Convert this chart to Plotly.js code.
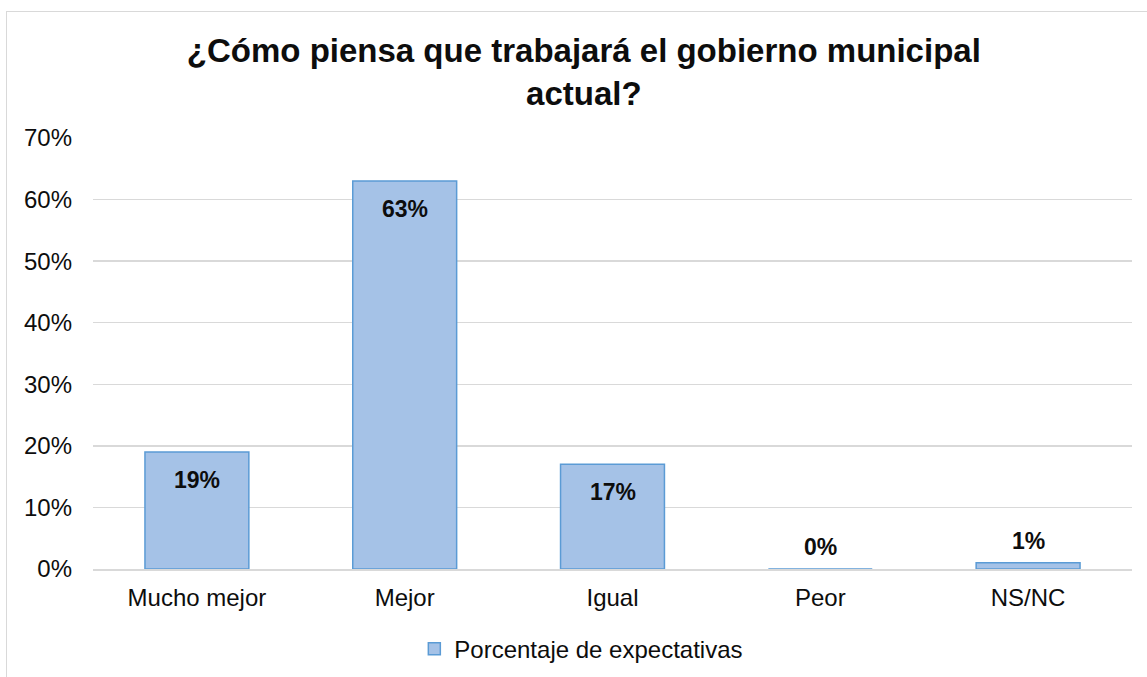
<!DOCTYPE html>
<html>
<head>
<meta charset="utf-8">
<script src="https://cdn.plot.ly/plotly-3.0.1.min.js"></script>
<style>
  html, body { margin: 0; padding: 0; background: #fff; overflow: hidden; }
  #frame { position: absolute; left: 6px; top: 11px; width: 1160px; height: 700px;
           border: 1.5px solid #d9d9d9; box-sizing: border-box; }
  #chart { position: absolute; left: 0; top: 0; width: 1147px; height: 677px; }
</style>
</head>
<body>
<div id="frame"></div>
<div id="chart"></div>
<script>
// Expectativas sobre el gobierno municipal actual
const categories = ['Mucho mejor', 'Mejor', 'Igual', 'Peor', 'NS/NC'];
const shares = [0.19, 0.63, 0.17, 0.0, 0.01];
const labelInside = [true, true, true, false, false];
const yTicks = [0, 0.1, 0.2, 0.3, 0.4, 0.5, 0.6, 0.7];

const FONT = 'Arial, "Liberation Sans", sans-serif';
const INK = '#0d0d0d';
const GRID = '#d9d9d9';

const trace = {
  type: 'bar',
  x: categories,
  y: shares,
  name: 'Porcentaje de expectativas',
  marker: { color: '#a5c2e7', line: { color: '#5b9bd5', width: 1.5 } },
  cliponaxis: false,
  hoverinfo: 'x+y',
};

// data labels: inside near the top for tall bars, just above for tiny ones
const labels = categories.map((c, i) => ({
  x: c,
  y: shares[i],
  xref: 'x',
  yref: 'y',
  text: '<b>' + Math.round(shares[i] * 100) + '%</b>',
  showarrow: false,
  yanchor: 'middle',
  yshift: labelInside[i] ? -28 : 22,
  font: { family: FONT, size: 23, color: INK },
}));

const layout = {
  width: 1147,
  height: 677,
  margin: { l: 93, r: 15, t: 138, b: 108 },
  paper_bgcolor: 'rgba(0,0,0,0)',
  plot_bgcolor: 'rgba(0,0,0,0)',
  font: { family: FONT, color: INK, size: 24 },
  title: {
    text: '<b>¿Cómo piensa que trabajará el gobierno municipal<br>actual?</b>',
    font: { family: FONT, size: 33, color: INK },
    x: 0.509,
    xanchor: 'center',
    y: 0.908,
    yanchor: 'middle',
  },
  bargap: 0.5,
  showlegend: true,
  legend: {
    orientation: 'h',
    x: 0.47,
    xanchor: 'center',
    yref: 'container',
    y: 0.041,
    yanchor: 'middle',
    font: { family: FONT, size: 24, color: INK },
  },
  annotations: labels,
  xaxis: {
    type: 'category',
    showgrid: false,
    showline: true,
    linecolor: GRID,
    linewidth: 1.5,
    ticks: '',
    ticklabelstandoff: 7,
    tickfont: { family: FONT, size: 24, color: INK },
  },
  yaxis: {
    range: [0, 0.7],
    tickvals: yTicks,
    tickformat: '.0%',
    showgrid: true,
    gridcolor: GRID,
    gridwidth: 1.5,
    zeroline: false,
    showline: false,
    ticks: '',
    ticklabelstandoff: 20,
    tickfont: { family: FONT, size: 24, color: INK },
  },
};

Plotly.newPlot('chart', [trace], layout, { displayModeBar: false, staticPlot: true });
</script>
</body>
</html>
